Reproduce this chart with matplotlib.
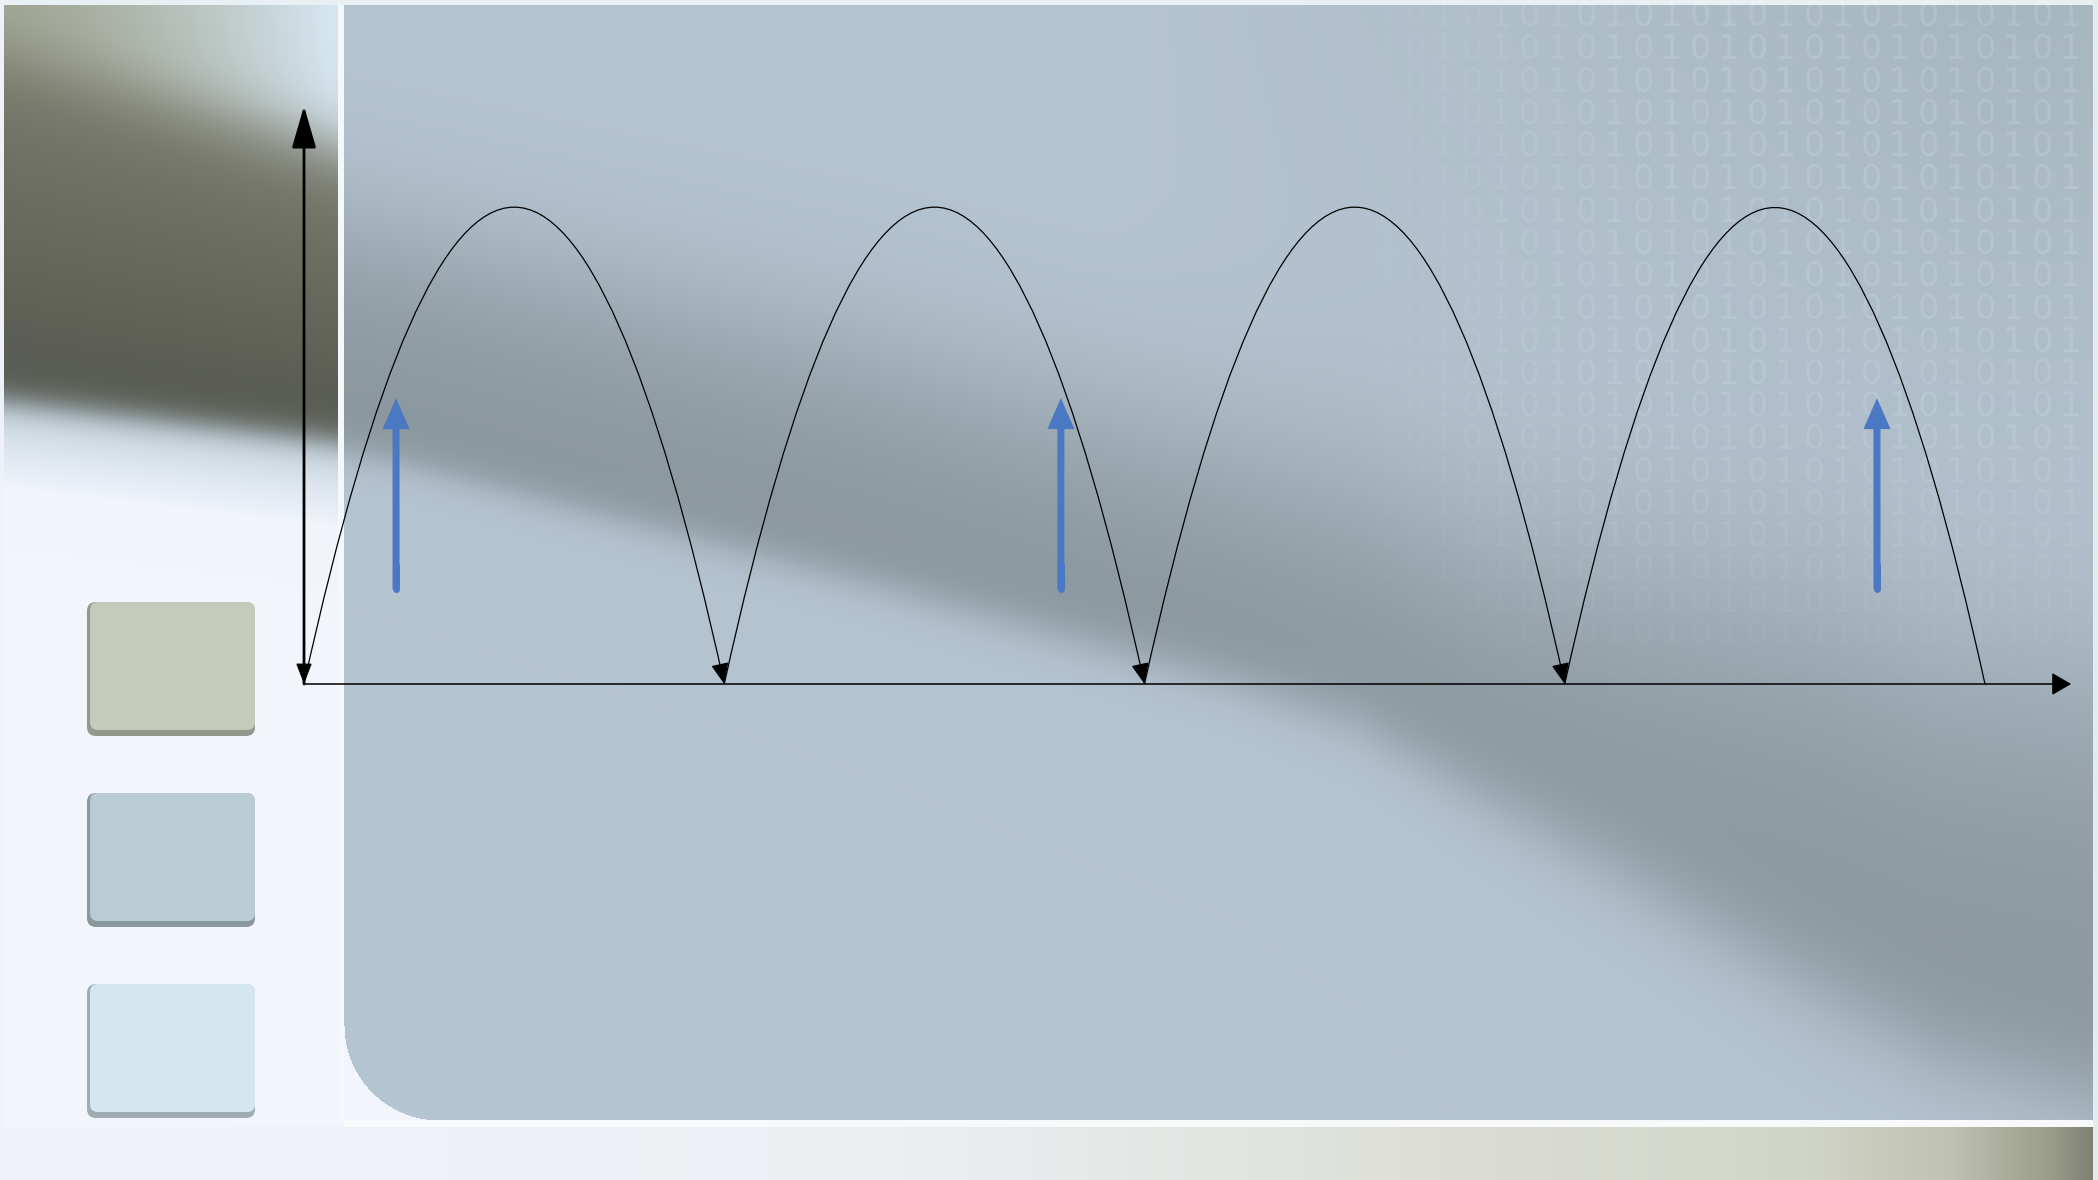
import numpy as np
import matplotlib
matplotlib.use("Agg")
import matplotlib.pyplot as plt
import matplotlib.colors as mcolors
from matplotlib.path import Path
from matplotlib.patches import FancyArrowPatch, FancyBboxPatch, Rectangle

# diagram data: x in hops, y in peak heights
hop_starts = [0, 1, 2, 3]
hop_ends = [1, 2, 3, 4]
hop_peaks = [1.0, 1.0, 1.0, 1.0]
hop_has_head = [True, True, True, False]
force_x = [0.219, 1.801, 3.743]
force_bottom = [0.199, 0.199, 0.199]
force_top = [0.600, 0.600, 0.600]
y_axis_top = 1.213
x_axis_end = 4.205

# slide swatches, top to bottom
swatch_colors = ["#c5cabb", "#b9cbd3", "#d4e7ef"]
binary_digits = "01"

W, H = 2098, 1180
ORIGIN = (304, 684)       # pixel position of the diagram origin
HOP_PX, PEAK_PX = 420.25, 476.5


def rgb(c):
    return np.array(mcolors.to_rgb(c), dtype=np.float32)


def mix(a, b, t):
    t = np.asarray(t, dtype=np.float32)[..., None]
    return a * (1 - t) + b * t


def sig(z):
    return 1.0 / (1.0 + np.exp(-np.clip(z, -40, 40)))


#---- background picture ----
yy, xx = np.mgrid[0:H, 0:W].astype(np.float32)
img = np.empty((H, W, 3), dtype=np.float32)
img[:] = rgb("#f2f5fc")

# left strip: blurred dark band over light sky
e1 = 50 + 0.28 * xx
e2 = 400 + 0.12 * xx
top_c = mix(rgb("#a4a999"), rgb("#d6e6f0"), np.clip(xx / 330, 0, 1) ** 1.5)
band_c = mix(rgb("#7b7c6e"), rgb("#55584f"), np.clip((yy - e1) / (e2 - e1), 0, 1))
low_c = mix(rgb("#c6d5e0"), rgb("#f2f5fc"), np.clip((yy - e2) / 90, 0, 1))
left = mix(top_c, band_c, sig((yy - e1) / 20))
left = mix(left, low_c, sig((yy - e2) / 9))
m = xx < 338
img[m] = left[m]

# main panel: diagonal dark band, sharp lower edge, soft upper edge
kx = [344, 396, 848, 1229, 1356, 1487, 1615, 1809, 1938, 2098]
low_edge = np.interp(xx, kx, [450, 461, 576, 679, 720, 796, 866, 982, 1052, 1098])
width = np.interp(xx, kx, [231, 231, 236, 234, 240, 260, 300, 380, 400, 420])
su = np.interp(xx, kx, [40, 40, 45, 50, 55, 60, 65, 70, 70, 70])
sd = np.interp(xx, kx, [10, 10, 12, 15, 18, 22, 26, 30, 30, 30])
up_edge = low_edge - width
D = sig((low_edge - yy) / sd) * sig((yy - up_edge) / su)
D *= 0.8 + 0.2 * np.clip((yy - up_edge) / width, 0, 1)
D = D.astype(np.float32)
tint = np.clip((xx - 1100) / 900, 0, 1) * np.clip((600 - yy) / 600, 0, 1)
base = mix(rgb("#b5c4d1"), rgb("#a7b7bf"), tint)
panel = mix(base, rgb("#8a969c"), D)
inside = (xx >= 344) & (xx < 2093) & (yy >= 5) & (yy < 1120)
r = 95
corner = (xx < 344 + r) & (yy > 1120 - r) & \
         ((xx - 344 - r) ** 2 + (yy - 1120 + r) ** 2 > r ** 2)
inside &= ~corner
img[inside] = panel[inside]

# bottom strip
bx = [0, 900, 1500, 1800, 1950, 2050, 2098]
bcols = [rgb(h) for h in ["#f0f3f9", "#eceff2", "#dadcd3", "#d2d6ca",
                          "#bfc2b0", "#9a9d8a", "#7a7e6e"]]
strip = np.stack([np.interp(np.arange(W), bx, [bc[i] for bc in bcols])
                  for i in range(3)], axis=-1)
img[1127:, :, :] = strip[None, :, :]

# thin light borders
img[1120:1127, 344:, :] = rgb("#f7f9fb")
img[:1120, 338:344, :] = rgb("#f5f8fb")
img[:5, :, :] = rgb("#e9f0f4")
img[:, 2093:, :] = rgb("#e4eaee")
img[:, :4, :] = rgb("#eef2f6")

fig = plt.figure(figsize=(W / 100, H / 100), dpi=100)
bg = fig.add_axes([0, 0, 1, 1])
bg.imshow(img, extent=(0, W, H, 0), interpolation="bilinear", aspect="auto")
bg.set_xlim(0, W)
bg.set_ylim(H, 0)
bg.axis("off")

# swatches on the left
for i, col in enumerate(swatch_colors):
    top = 602 + 191 * i
    shade = tuple(np.clip(rgb(col) * 0.75, 0, 1))
    bg.add_patch(FancyBboxPatch((87, top), 168, 134,
                                boxstyle="round,pad=0,rounding_size=9",
                                fc=shade, ec="none"))
    bg.add_patch(FancyBboxPatch((90, top), 165, 128,
                                boxstyle="round,pad=0,rounding_size=8",
                                fc=col, ec="none"))

# faint binary pattern in the top right
clip_rect = Rectangle((344, 5), 2093 - 344, 1115, transform=bg.transData)
for row in range(24):
    ty = 17 + 32.5 * row
    for k in range(-20, 20):
        for j, off in enumerate((0, 28)):
            tx = 1643 + 57 * k + off
            a = 0.12 * np.clip((tx - 1330) / 300, 0, 1) * np.clip((720 - ty) / 300, 0, 1)
            if a < 0.01 or tx > 2078:
                continue
            t = bg.text(tx, ty, binary_digits[j], color="white", alpha=a,
                        fontsize=24, family="DejaVu Sans",
                        ha="center", va="center")
            t.set_clip_path(clip_rect)

#---- the bounce diagram ----
ax = fig.add_axes([0, 0, 1, 1])
ax.patch.set_alpha(0)
ax.set_xlim(-ORIGIN[0] / HOP_PX, (W - ORIGIN[0]) / HOP_PX)
ax.set_ylim((ORIGIN[1] - H) / PEAK_PX, ORIGIN[1] / PEAK_PX)
ax.axis("off")

# axes arrows
ax.annotate("", xy=(0, y_axis_top), xytext=(0, 0),
            arrowprops=dict(arrowstyle="-|>,head_length=2.6,head_width=0.75",
                            mutation_scale=10, lw=2, color="black",
                            shrinkA=0, shrinkB=0))
ax.annotate("", xy=(0, 0), xytext=(0, 0.15),
            arrowprops=dict(arrowstyle="-|>,head_length=1.3,head_width=0.5",
                            mutation_scale=10, lw=0.9, color="black",
                            shrinkA=0, shrinkB=0))
ax.annotate("", xy=(x_axis_end, 0), xytext=(0, 0),
            arrowprops=dict(arrowstyle="-|>,head_length=1.2,head_width=0.7",
                            mutation_scale=10, lw=1.1, color="black",
                            shrinkA=0, shrinkB=0))

# parabolic hops (quadratic bezier: control point at twice the peak)
for s, e, pk, head in zip(hop_starts, hop_ends, hop_peaks, hop_has_head):
    p = Path([(s, 0), ((s + e) / 2, 2 * pk), (e, 0)],
             [Path.MOVETO, Path.CURVE3, Path.CURVE3])
    style = "-|>,head_length=1.3,head_width=0.55" if head else "-"
    ax.add_patch(FancyArrowPatch(path=p, arrowstyle=style, mutation_scale=10,
                                 lw=0.9, color="black"))

# blue force arrows
blue = "#4a78c2"
for fx, y0, y1 in zip(force_x, force_bottom, force_top):
    ax.arrow(fx, y0, 0, y1 - y0, width=7 / HOP_PX, head_width=27 / HOP_PX,
             head_length=31 / PEAK_PX, length_includes_head=True,
             fc=blue, ec="none")
    ax.plot([fx, fx], [y0, y0 + 0.05], color=blue, lw=5,
            solid_capstyle="round")

fig.savefig("out.png", dpi=100)
